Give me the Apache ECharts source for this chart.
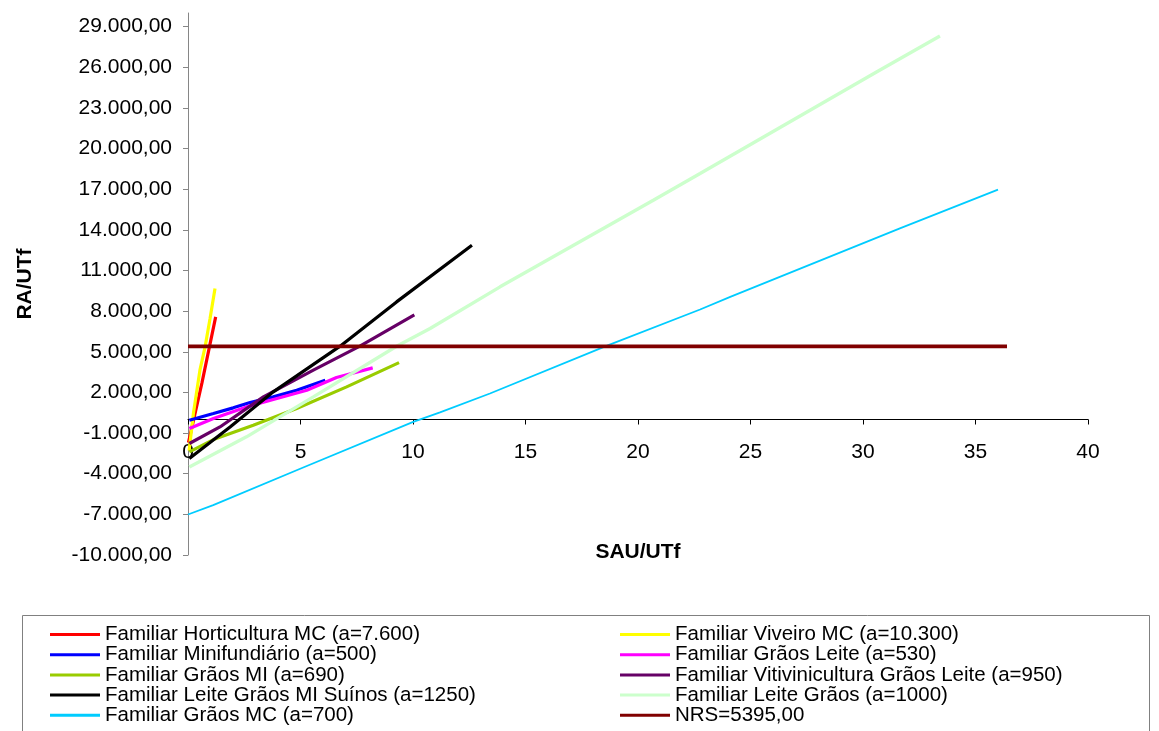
<!DOCTYPE html>
<html>
<head>
<meta charset="utf-8">
<script src="https://cdn.jsdelivr.net/npm/echarts@6/dist/echarts.min.js"></script>
<style>html,body{margin:0;padding:0;background:#fff;}#chart{width:1159px;height:731px;}</style>
</head>
<body>
<div id="chart"></div>
<script>
// ---- data ----
const seriesNames = [
  'Familiar Horticultura MC (a=7.600)',
  'Familiar Viveiro MC (a=10.300)',
  'Familiar Minifundiário (a=500)',
  'Familiar Grãos Leite (a=530)',
  'Familiar Grãos MI (a=690)',
  'Familiar Vitivinicultura Grãos Leite (a=950)',
  'Familiar Leite Grãos MI Suínos (a=1250)',
  'Familiar Leite Grãos (a=1000)',
  'Familiar Grãos MC (a=700)',
  'NRS=5395,00'
];
const hortX = [0.02, 0.62, 1.23];
const hortY = [-1700, 2700, 7570];
const viveiroX = [0.05, 0.24, 0.53, 0.76, 0.98, 1.2];
const viveiroY = [-2300, 440, 3640, 5360, 7450, 9670];
const miniX = [0.06, 1.13, 2.01, 2.76, 3.79, 4.83, 6.1];
const miniY = [-50, 440, 860, 1250, 1670, 2160, 2900];
const graosLeiteX = [0.06, 1.13, 2.6, 3.79, 5.28, 6.6, 8.21];
const graosLeiteY = [-660, 70, 930, 1480, 2160, 3100, 3810];
const graosMIX = [0.06, 1.13, 2.9, 4.83, 7.05, 9.38];
const graosMIY = [-2390, -1480, -420, 810, 2410, 4200];
const vitiX = [0.06, 1.42, 3.35, 5.57, 7.64, 10.06];
const vitiY = [-1770, -550, 1670, 3640, 5410, 7720];
const suinosX = [0.06, 1.87, 3.79, 6.76, 9.27, 12.62];
const suinosY = [-2880, -550, 2040, 5410, 8680, 12860];
const leiteGraosX = [0.06, 2.6, 5.57, 9.27, 10.76, 13.87, 20.68, 22.76, 30.6, 33.42];
const leiteGraosY = [-3500, -1280, 1670, 5410, 6720, 9790, 16180, 18150, 25650, 28310];
const graosMCX = [0, 1.12, 5.12, 10.01, 11.2, 13.42, 18.6, 22.76, 24.1, 31.64, 36.0];
const graosMCY = [-7010, -6320, -3540, -180, 520, 1920, 5430, 8120, 9050, 14100, 16970];
const nrsX = [0, 36.4];
const nrsY = [5395, 5395];
const xTicks = [0, 5, 10, 15, 20, 25, 30, 35, 40];
const yTicks = [-10000, -7000, -4000, -1000, 2000, 5000, 8000, 11000, 14000, 17000, 20000, 23000, 26000, 29000];

// ---- styling ----
const colors = ['#FF0000', '#FFFF00', '#0000FF', '#FF00FF', '#99CC00', '#660066', '#000000', '#CCFFCC', '#00CCFF', '#800000'];
const widths = [3.2, 3.2, 3.2, 3.2, 3.2, 3.2, 3.2, 3.4, 1.8, 3.6];
const xsList = [hortX, viveiroX, miniX, graosLeiteX, graosMIX, vitiX, suinosX, leiteGraosX, graosMCX, nrsX];
const ysList = [hortY, viveiroY, miniY, graosLeiteY, graosMIY, vitiY, suinosY, leiteGraosY, graosMCY, nrsY];

function fmtBR(v) {
  const neg = v < 0;
  const s = Math.abs(Math.round(v)).toString().replace(/\B(?=(\d{3})+(?!\d))/g, '.');
  return (neg ? '-' : '') + s + ',00';
}

const font = 'Liberation Sans, Arial, sans-serif';
const series = seriesNames.map((n, i) => ({
  name: n,
  type: 'line',
  symbol: 'none',
  showSymbol: false,
  color: colors[i],
  lineStyle: { width: widths[i], color: colors[i] },
  data: xsList[i].map((x, j) => [x, ysList[i][j]]),
  z: 2
}));

const leftNames = seriesNames.filter((_, i) => i % 2 === 0);
const rightNames = seriesNames.filter((_, i) => i % 2 === 1);
const legendBase = {
  orient: 'vertical',
  top: 624,
  icon: 'rect',
  itemWidth: 50,
  itemHeight: 3,
  itemGap: -0.8,
  padding: 0,
  textStyle: { fontFamily: font, fontSize: 20.5, lineHeight: 20, color: '#000' }
};

const gridTop = 13, gridH = 542, yMin = -10000, yMax = 30000;
const zeroOffset = -gridH * (0 - yMin) / (yMax - yMin); // lift x axis to the zero line

const chart = echarts.init(document.getElementById('chart'), null, { renderer: 'canvas' });
chart.setOption({
  animation: false,
  backgroundColor: '#fff',
  textStyle: { fontFamily: font },
  grid: { left: 188, top: gridTop, width: 900, height: gridH },
  xAxis: {
    type: 'value', min: 0, max: 40, interval: 5,
    position: 'bottom', offset: zeroOffset,
    name: 'SAU/UTf', nameLocation: 'middle', nameGap: 122,
    nameTextStyle: { fontFamily: font, fontSize: 21, fontWeight: 'bold', color: '#000' },
    axisLine: { onZero: false, lineStyle: { color: '#000', width: 1 } },
    axisTick: { show: true, length: 5, lineStyle: { color: '#000' }, customValues: xTicks },
    axisLabel: { fontFamily: font, fontSize: 21, color: '#000', margin: 22, customValues: xTicks },
    splitLine: { show: false }
  },
  yAxis: {
    type: 'value', min: yMin, max: yMax, interval: 3000,
    name: 'RA/UTf', nameLocation: 'middle', nameGap: 152,
    nameTextStyle: { fontFamily: font, fontSize: 21, fontWeight: 'bold', color: '#000' },
    axisLine: { show: true, lineStyle: { color: '#868686', width: 1 } },
    axisTick: { show: true, length: 5, lineStyle: { color: '#868686' }, customValues: yTicks },
    axisLabel: { fontFamily: font, fontSize: 21, color: '#000', margin: 16, customValues: yTicks, formatter: v => fmtBR(v) },
    splitLine: { show: false }
  },
  legend: [
    Object.assign({}, legendBase, { left: 50, data: leftNames }),
    Object.assign({}, legendBase, { left: 620, data: rightNames })
  ],
  graphic: [{
    type: 'rect',
    shape: { x: 22.5, y: 615.5, width: 1127, height: 140 },
    style: { fill: 'none', stroke: '#808080', lineWidth: 1 },
    silent: true, z: 0
  }],
  series: series
});
</script>
</body>
</html>
